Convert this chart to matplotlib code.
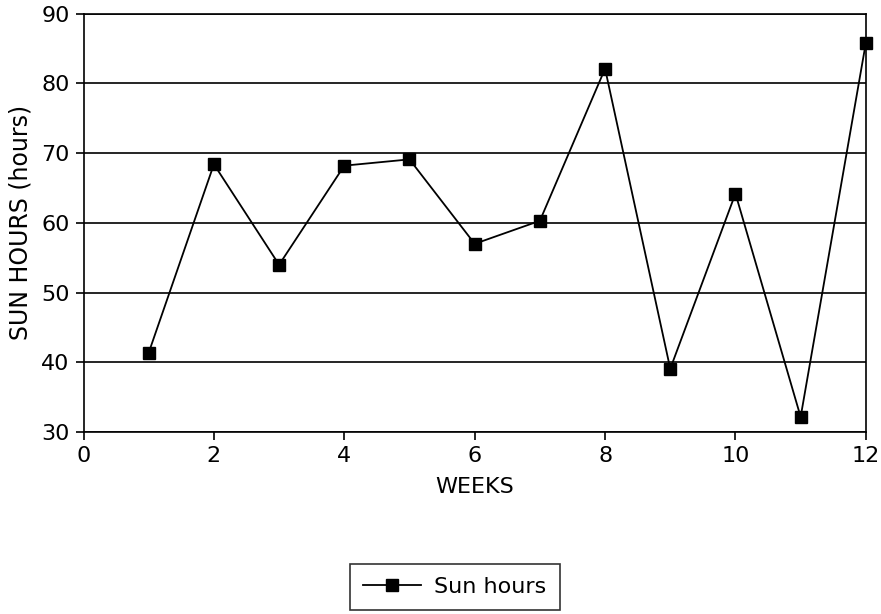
import matplotlib
matplotlib.use("Agg")
import matplotlib.pyplot as plt

weeks = [1, 2, 3, 4, 5, 6, 7, 8, 9, 10, 11, 12]
sun_hours = [41.4, 68.4, 54.0, 68.2, 69.1, 57.0, 60.3, 82.1, 39.1, 64.2, 32.2, 85.8]
x_ticks = [0, 2, 4, 6, 8, 10, 12]
y_ticks = [30, 40, 50, 60, 70, 80, 90]

plt.rcParams['font.family'] = ['DejaVu Sans']

fig = plt.figure(figsize=(8.81, 6.14), dpi=100)
ax = fig.add_axes([0.0948, 0.296, 0.888, 0.682])

ax.plot(weeks, sun_hours, color='black', linewidth=1.3, marker='s',
        markersize=9, markerfacecolor='black', label='Sun hours', clip_on=False, zorder=3)

ax.set_xlim(0, 12)
ax.set_ylim(30, 90)
ax.set_xticks(x_ticks)
ax.set_yticks(y_ticks)
ax.yaxis.grid(True, color='black', linewidth=1.2)
ax.set_axisbelow(True)
for s in ax.spines.values():
    s.set_linewidth(1.2)
ax.tick_params(direction='out', length=6, width=1.2, labelsize=16, pad=4)

ax.set_xlabel('WEEKS', fontsize=16, labelpad=8)
ax.set_ylabel('SUN HOURS (hours)', fontsize=17, labelpad=6)

leg = fig.legend(loc='center', bbox_to_anchor=(0.516, 0.044), fontsize=16,
                 frameon=True, fancybox=False, handlelength=2.6, borderpad=0.6,
                 handletextpad=0.6, borderaxespad=0)
leg.get_frame().set_edgecolor('black')
leg.get_frame().set_linewidth(1.2)

fig.savefig('out.png', dpi=100)
